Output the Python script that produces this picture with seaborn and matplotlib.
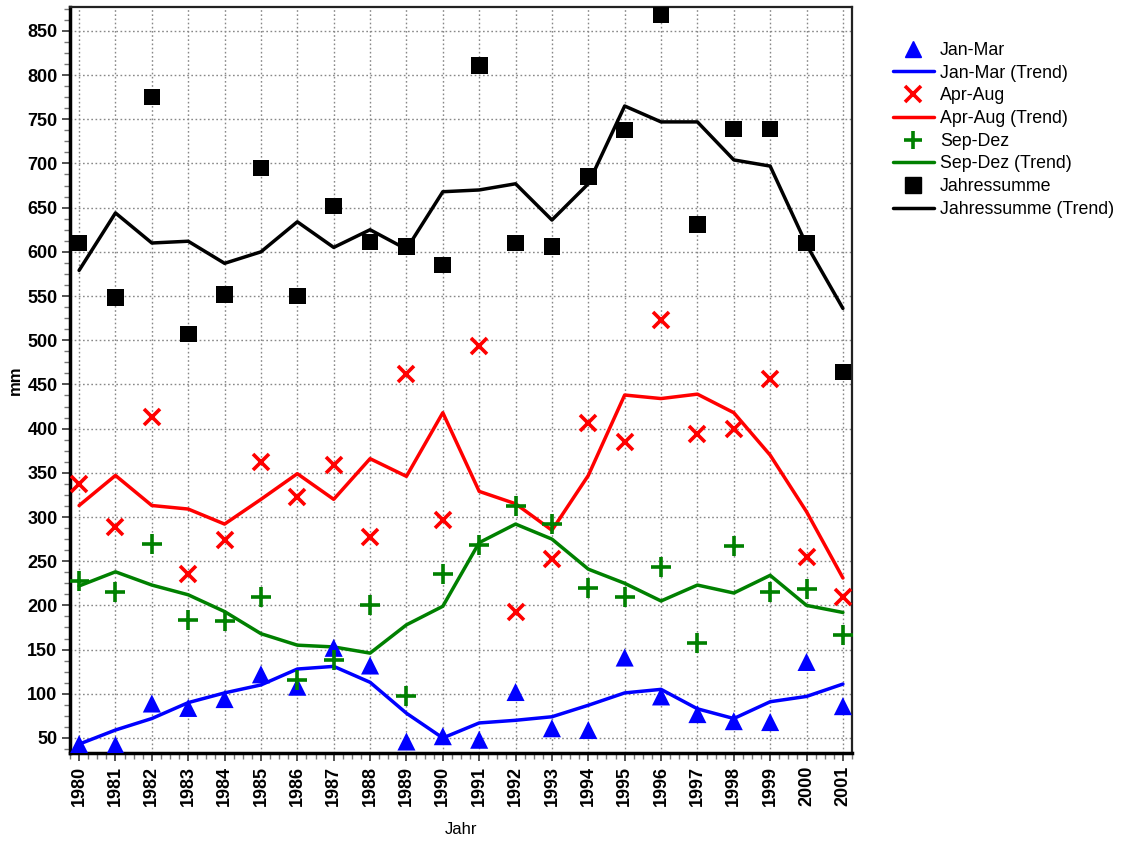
import matplotlib
matplotlib.use("Agg")
import matplotlib.pyplot as plt
import seaborn as sns
import pandas as pd
import numpy as np
from matplotlib.ticker import MultipleLocator
from matplotlib.lines import Line2D

years = list(range(1980, 2002))

jan_mar = [43, 42, 89, 84, 94, 122, 108, 152, 132, 46, 52, 48, 102, 61, 59, 141, 97, 77, 69, 68, 136, 86]
jan_mar_trend = [43, 59, 72, 90, 101, 110, 128, 131, 113, 78, 50, 67, 70, 74, 87, 101, 105, 83, 72, 91, 97, 111]
apr_aug = [337, 289, 413, 236, 274, 362, 323, 359, 277, 462, 297, 494, 193, 252, 406, 385, 523, 394, 399, 456, 255, 210]
apr_aug_trend = [313, 347, 313, 309, 292, 320, 349, 320, 366, 346, 418, 329, 315, 285, 347, 438, 434, 439, 418, 370, 306, 231]
sep_dez = [228, 215, 269, 183, 182, 210, 116, 138, 201, 97, 235, 268, 313, 292, 220, 210, 243, 158, 267, 215, 218, 167]
sep_dez_trend = [222, 238, 223, 212, 193, 168, 155, 153, 146, 178, 199, 271, 292, 275, 241, 225, 205, 223, 214, 234, 200, 192]
jahr = [610, 548, 775, 507, 552, 695, 550, 652, 611, 606, 585, 811, 610, 606, 685, 738, 868, 631, 739, 739, 610, 464]
jahr_trend = [579, 644, 610, 612, 587, 600, 634, 605, 625, 603, 668, 670, 677, 636, 677, 765, 747, 747, 704, 697, 608, 536]

df = pd.DataFrame({
    "Jahr": years,
    "Jan-Mar": jan_mar, "Jan-Mar (Trend)": jan_mar_trend,
    "Apr-Aug": apr_aug, "Apr-Aug (Trend)": apr_aug_trend,
    "Sep-Dez": sep_dez, "Sep-Dez (Trend)": sep_dez_trend,
    "Jahressumme": jahr, "Jahressumme (Trend)": jahr_trend,
})

sns.set_style("white")
plt.rcParams['font.family'] = ['Liberation Sans', 'DejaVu Sans']
plt.rcParams['text.color'] = 'black'
plt.rcParams['axes.labelcolor'] = 'black'
plt.rcParams['xtick.labelcolor'] = 'black'
plt.rcParams['ytick.labelcolor'] = 'black'

fig = plt.figure(figsize=(11.23, 8.43), dpi=100)
ax = fig.add_axes([70/1123, 1-753/843, (852-70)/1123, (753-7)/843])

series = [
    ("Jan-Mar", "#0000ff", "^", 13, 1.0),
    ("Apr-Aug", "#ff0000", "x", 12, 2.6),
    ("Sep-Dez", "#008000", "+", 14, 2.6),
    ("Jahressumme", "#000000", "s", 12, 1.0),
]

handles = []
for name, col, mk, ms, mew in series:
    sns.lineplot(data=df, x="Jahr", y=name + " (Trend)", ax=ax, color=col, linewidth=2.5,
                 legend=False, zorder=3)
    if mk in ("x", "+"):
        ax.plot(df["Jahr"], df[name], linestyle="none", marker=mk, markersize=ms,
                markeredgewidth=mew, color=col, zorder=4)
    else:
        sns.scatterplot(data=df, x="Jahr", y=name, ax=ax, color=col, marker=mk,
                        s=(ms**2), edgecolor="none", legend=False, zorder=4)
    handles.append(Line2D([], [], linestyle="none", marker=mk, color=col,
                          markersize=ms - 1, markeredgewidth=mew, label=name))
    handles.append(Line2D([], [], color=col, linewidth=2.5, label=name + " (Trend)"))

ax.set_xlim(1979.75, 2001.25)
ax.set_ylim(33, 877)
ax.set_xticks(years)
ax.set_xticklabels([str(y) for y in years], rotation=90, fontweight="bold", fontsize=13)
ax.xaxis.set_minor_locator(MultipleLocator(0.25))
ax.yaxis.set_minor_locator(MultipleLocator(12.5))
yt = list(range(50, 851, 50))
ax.set_yticks(yt)
ax.set_yticklabels([str(v) for v in yt], fontweight="bold", fontsize=13)

ax.tick_params(axis="both", which="major", direction="out", length=6, width=1.2, color="#333333",
               left=True, bottom=True, pad=3)
ax.tick_params(axis="both", which="minor", direction="out", length=4, width=1, color="#777777",
               left=True, bottom=True)

ax.grid(True, which="major", linestyle=(0, (1.2, 1.8)), color="#888888", linewidth=1)

for side in ("left", "bottom"):
    ax.spines[side].set_linewidth(2.5)
    ax.spines[side].set_color("black")
for side in ("top", "right"):
    ax.spines[side].set_linewidth(1.6)
    ax.spines[side].set_color("#222222")

ax.set_xlabel("Jahr", fontsize=12)
ax.xaxis.set_label_coords(0.5, (753 - 830) / 746)
ax.xaxis.label.set_va("center")
ax.set_ylabel("mm", fontsize=12, fontweight="bold")
ax.yaxis.set_label_coords((15 - 70) / 782, 0.5)
ax.yaxis.label.set_va("center")

leg = fig.legend(handles=handles, loc="upper left", bbox_to_anchor=(893/1123, 1-42/843),
                 frameon=False, fontsize=12.8, handlelength=2.3, handletextpad=0.35,
                 labelspacing=0.32, borderaxespad=0, borderpad=0)

fig.savefig("out.png", dpi=100)
